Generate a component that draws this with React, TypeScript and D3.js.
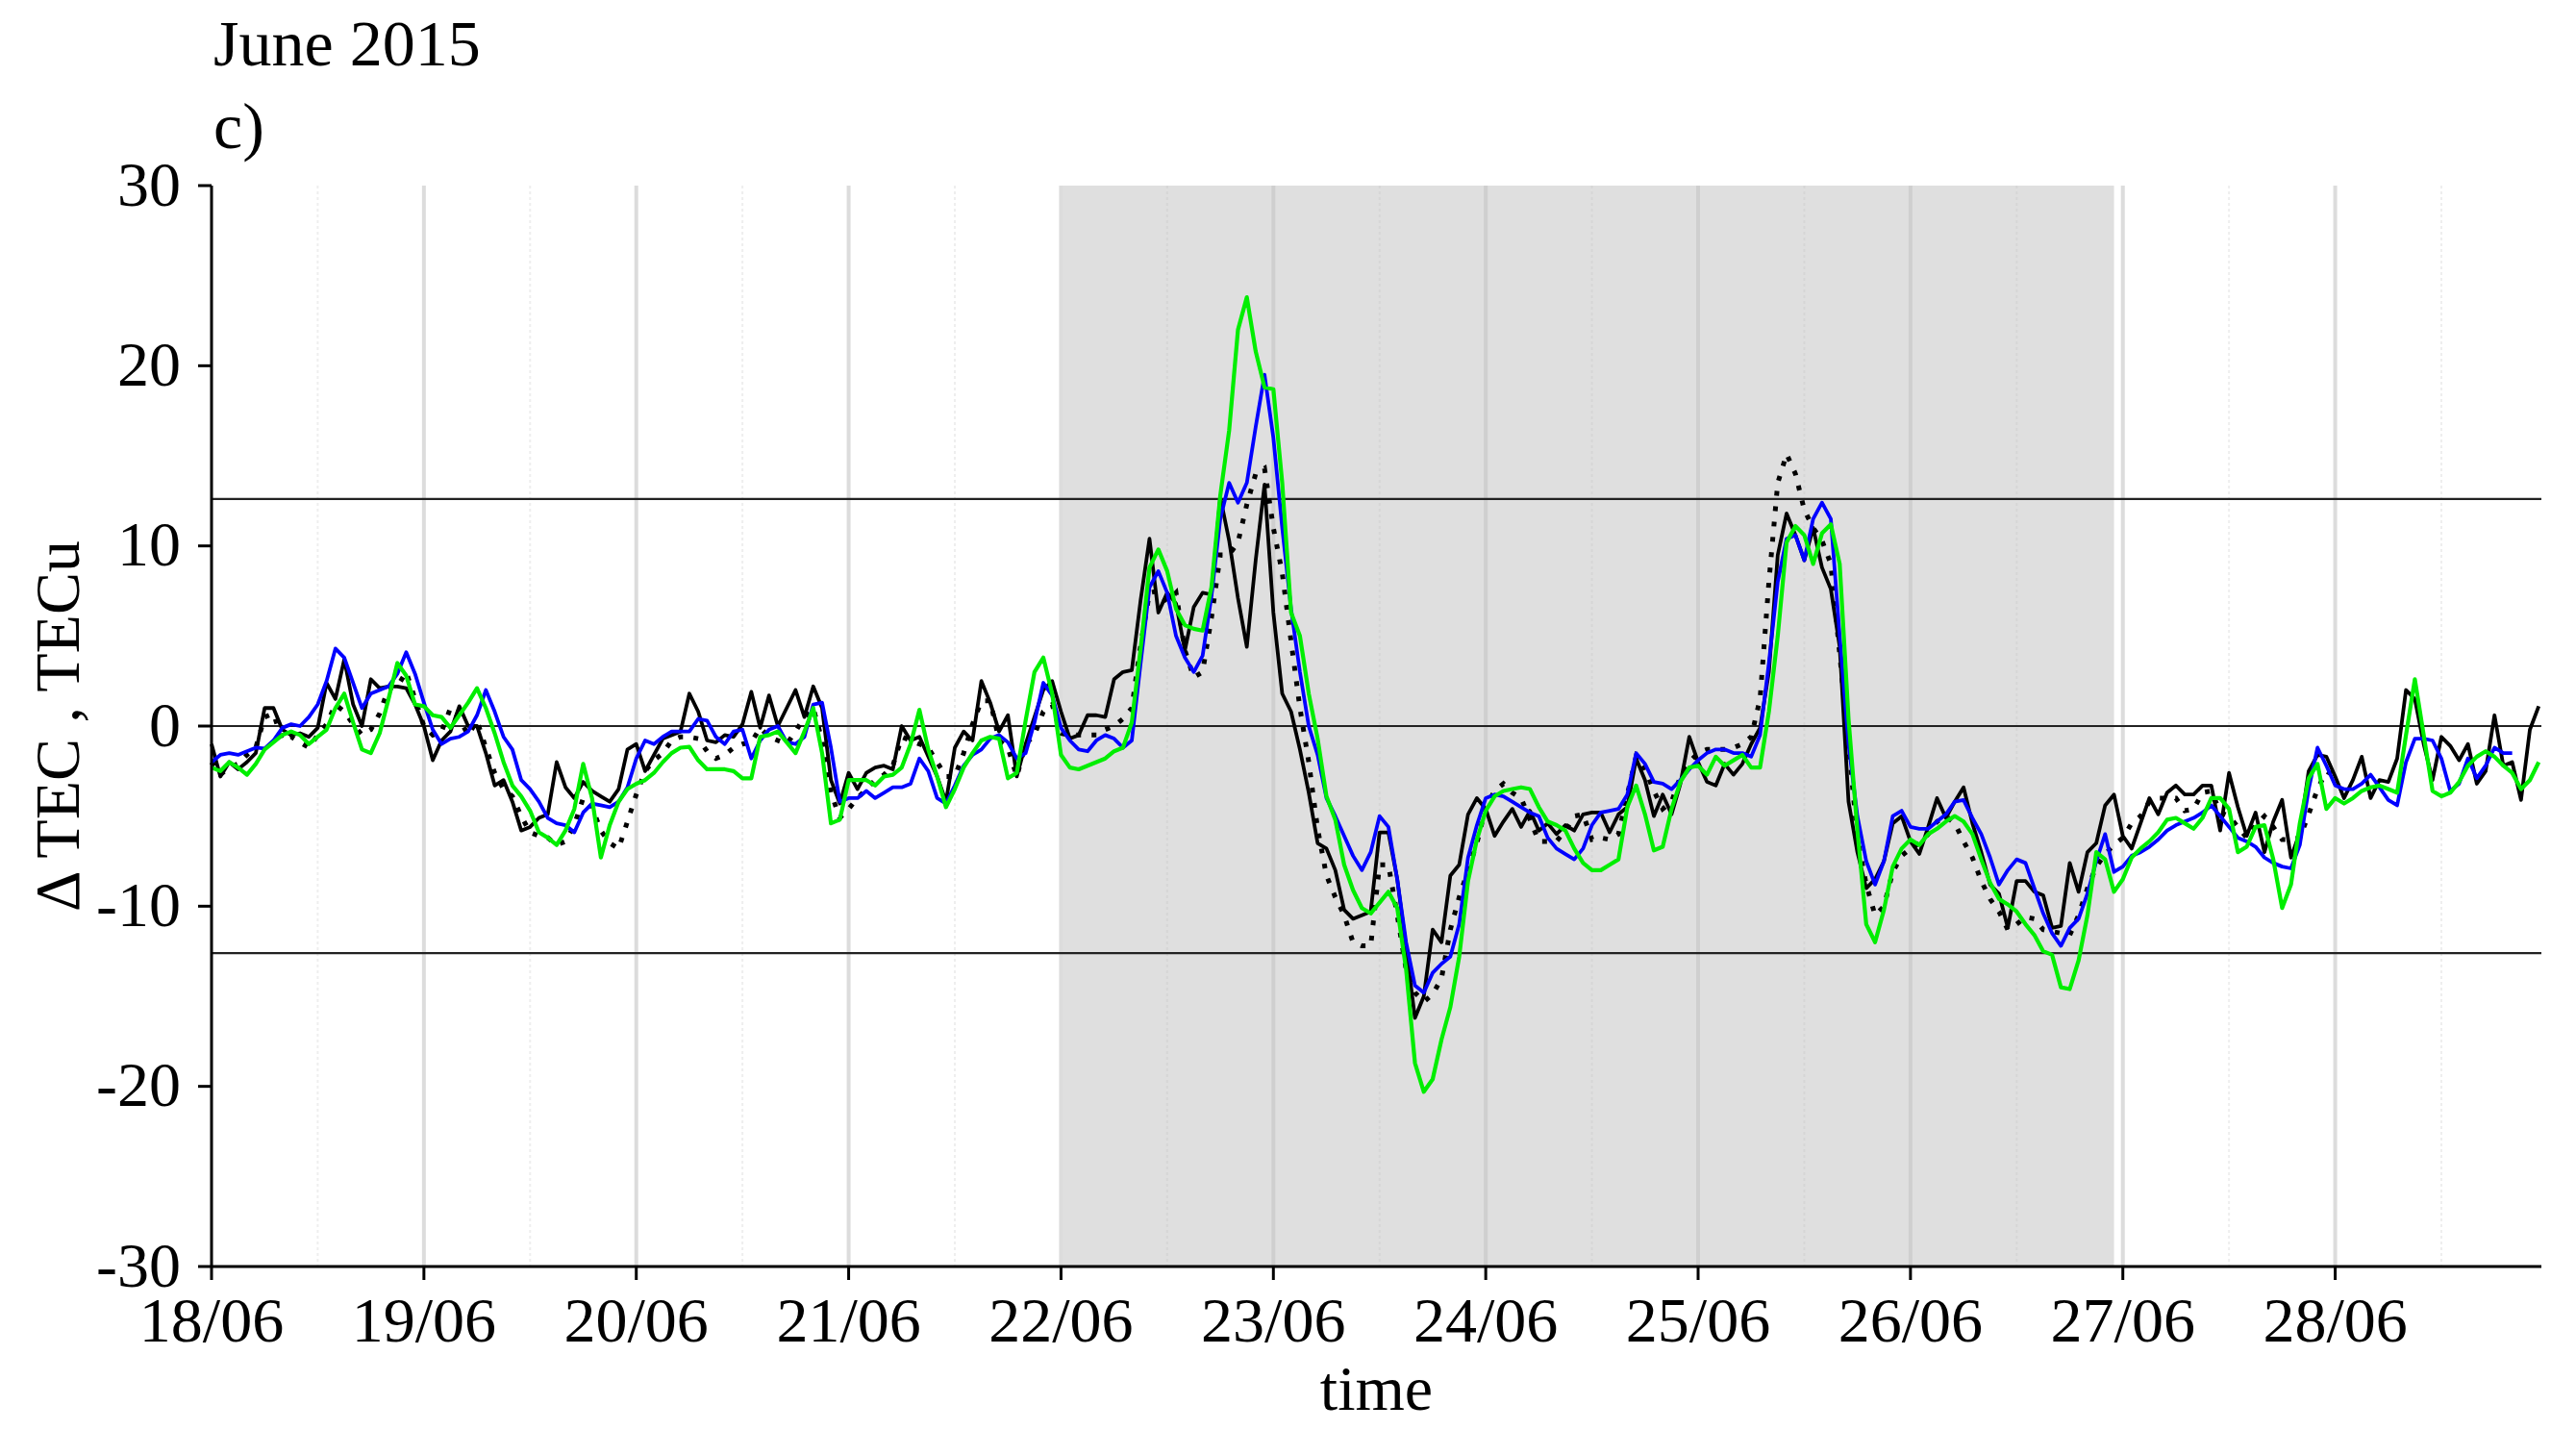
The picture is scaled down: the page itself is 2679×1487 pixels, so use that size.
import React, { useEffect } from 'react';
import * as d3 from 'd3';

// ---- data (hourly, starting 18/06/2015 00:00) ----
const dayLabels = ['18/06', '19/06', '20/06', '21/06', '22/06', '23/06', '24/06', '25/06', '26/06', '27/06', '28/06'];
const yTicks = [-30, -20, -10, 0, 10, 20, 30];
const thresholds = [12.6, -12.6];
const shadeHours = [96, 215];

const tecSolid = [
  -1.0, -2.8, -2.0, -2.4, -2.0, -1.5, 1.0, 1.0, -0.2, -0.5, -0.4, -0.6, -0.1, 2.4, 1.5, 3.7, 1.2, 0.0, 2.6, 2.1, 2.2, 2.2, 2.1, 1.2,
  0.0, -1.9, -0.8, -0.3, 1.1, 0.0, 0.0, -1.5, -3.3, -3.0, -4.2, -5.8, -5.6, -5.1, -4.9, -2.0, -3.4, -4.0, -3.1, -3.6, -3.9, -4.2, -3.5, -1.3,
  -1.0, -2.5, -1.6, -0.7, -0.5, -0.3, 1.8, 0.8, -0.8, -0.9, -0.5, -0.6, 0.1, 1.9, -0.1, 1.7, 0.0, 1.0, 2.0, 0.5, 2.2, 1.0, -3.0, -4.3,
  -2.6, -3.5, -2.6, -2.3, -2.2, -2.4, 0.0, -0.8, -0.6, -1.7, -2.8, -4.2, -1.2, -0.3, -0.8, 2.5, 1.3, -0.3, 0.6, -2.8, -1.0, 0.5, 2.0, 2.5,
  0.8, -0.7, -0.5, 0.6, 0.6, 0.5, 2.6, 3.0, 3.1, 7.0, 10.4, 6.3, 7.4, 6.8, 4.2, 6.6, 7.4, 7.3, 12.7, 10.3, 7.1, 4.4, 9.2, 13.4,
  6.3, 1.8, 0.8, -1.3, -3.7, -6.5, -6.8, -8.0, -10.2, -10.7, -10.5, -10.3, -5.9, -5.9, -8.5, -12.3, -16.2, -15.0, -11.3, -12.0, -8.3, -7.7, -4.9, -4.0,
  -4.6, -6.1, -5.3, -4.6, -5.6, -4.7, -5.8, -5.4, -6.0, -5.5, -5.8, -4.9, -4.8, -4.8, -5.9, -4.9, -4.5, -1.8, -3.0, -5.0, -3.8, -4.9, -3.2, -0.6,
  -2.0, -3.1, -3.3, -2.1, -2.7, -2.1, -1.0, -0.1, 3.0, 9.5, 11.8, 10.6, 9.2, 11.0, 8.8, 7.6, 4.4, -4.2, -7.0, -9.0, -8.5, -7.5, -5.4, -5.0,
  -6.4, -7.1, -5.6, -4.0, -5.1, -4.2, -3.4, -5.4, -7.0, -8.8, -9.3, -11.2, -8.6, -8.6, -9.2, -9.4, -11.2, -11.1, -7.6, -9.2, -7.0, -6.5, -4.4, -3.8,
  -6.1, -6.8, -5.4, -4.0, -4.9, -3.7, -3.3, -3.8, -3.8, -3.3, -3.3, -5.8, -2.6, -4.5, -6.1, -4.8, -7.0, -5.3, -4.1, -7.3, -5.9, -2.5, -1.6, -1.7,
  -2.8, -4.0, -3.0, -1.7, -4.0, -3.0, -3.1, -1.8, 2.0, 1.5, -1.0, -3.0, -0.6, -1.1, -1.9, -1.0, -3.2, -2.5, 0.6, -2.2, -2.0, -4.1, -0.2, 1.1,
];

const tecDotted = [
  -2.0, -2.7, -2.3, -2.1, -1.6, -1.2, 0.5, 0.7, -0.8, -0.6, -0.9, -1.2, -0.5, 0.1, 1.2, 0.8, 0.1, -0.5, -0.2, 0.7, 2.1, 2.2, 3.0, 1.5,
  0.0, -0.5, -0.3, 1.0, 0.4, -0.5, 0.3, -1.2, -2.6, -3.5, -3.9, -5.0, -5.9, -6.1, -6.2, -6.6, -6.4, -5.5, -4.0, -4.5, -5.8, -6.5, -6.8, -5.3,
  -3.8, -2.5, -1.9, -1.5, -0.8, -0.6, -0.6, -0.7, -1.4, -1.8, -1.6, -1.2, -1.0, -0.9, -0.1, -0.6, -0.8, -1.0, -0.3, 0.5, 1.0, -0.8, -3.7, -5.1,
  -4.6, -4.0, -3.5, -3.0, -2.7, -2.2, -0.6, -0.8, -1.0, -1.2, -2.0, -2.8, -2.8, -1.5, 0.1, 1.4, 1.4, -0.8, -1.2, -2.8, -1.0, -0.5, 0.8, 1.2,
  -0.4, -0.5, -0.5, -0.5, -0.5, -0.2, 0.0, 0.4, 1.0, 4.5, 7.4, 7.5, 6.9, 7.4, 4.2, 2.7, 3.0, 6.0, 9.5, 9.5, 10.2, 12.3, 14.0, 14.3,
  11.0, 8.5, 4.7, 1.0, -2.0, -5.7, -8.3, -9.5, -10.5, -12.0, -12.2, -12.2, -7.7, -7.7, -10.5, -13.5, -14.8, -15.3, -14.9, -14.0, -11.3, -9.5, -8.0, -6.5,
  -4.5, -3.6, -3.2, -3.7, -4.0, -5.2, -6.4, -6.4, -6.4, -5.8, -5.0, -4.9, -6.3, -6.2, -6.3, -6.0, -3.8, -1.7, -2.4, -3.6, -4.6, -4.2, -2.8, -2.0,
  -1.5, -1.3, -1.3, -1.3, -1.2, -1.0, -0.6, 1.5, 8.0, 13.5, 15.1, 14.0, 12.0, 11.0, 10.3, 9.0, 4.0, -1.0, -6.2, -8.8, -10.5, -10.0, -8.1, -7.2,
  -6.8, -6.5, -6.0, -5.3, -5.0, -5.4, -6.4, -7.3, -8.6, -9.6, -10.3, -11.3, -11.0, -10.6, -10.7, -11.3, -11.4, -11.5, -11.6, -10.5, -9.0, -7.8, -7.1, -6.6,
  -6.2, -5.4, -5.0, -4.2, -4.0, -4.0, -4.0, -4.7, -4.6, -3.7, -3.6, -4.8, -5.0, -5.6, -6.2, -5.5, -5.0, -5.6, -6.3, -6.3, -6.2, -4.9, -3.5, -2.5,
  -2.8,
];

const modelBlue = [
  -2.0, -1.6, -1.5, -1.6, -1.4, -1.2, -1.25, -0.8, -0.1, 0.1, 0.0, 0.5, 1.2, 2.5, 4.3, 3.8, 2.4, 1.0, 1.8, 2.0, 2.2, 2.9, 4.1, 2.9,
  1.3, -0.2, -1.0, -0.7, -0.6, -0.3, 0.6, 2.0, 0.8, -0.6, -1.3, -3.0, -3.5, -4.2, -5.1, -5.4, -5.5, -5.9, -4.8, -4.3, -4.4, -4.5, -4.2, -3.4,
  -1.8, -0.8, -1.0, -0.6, -0.3, -0.3, -0.3, 0.4, 0.3, -0.6, -1.0, -0.3, -0.2, -1.8, -0.8, -0.2, 0.0, -0.9, -1.0, -0.6, 1.2, 1.3, -1.2, -4.2,
  -4.0, -4.0, -3.6, -4.0, -3.7, -3.4, -3.4, -3.2, -1.8, -2.5, -4.0, -4.3, -3.3, -2.2, -1.6, -1.3, -0.7, -0.5, -0.9, -1.8, -1.5, 0.2, 2.4, 1.7,
  -0.1, -0.8, -1.3, -1.4, -0.8, -0.5, -0.7, -1.2, -0.8, 3.5, 7.7, 8.6, 7.4, 5.0, 3.8, 3.0, 3.9, 7.2, 11.5, 13.5, 12.4, 13.5, 16.6, 19.5,
  16.0, 11.0, 6.5, 3.0, 0.0, -1.6, -4.0, -5.0, -6.1, -7.2, -8.0, -7.0, -5.0, -5.6, -8.5, -12.0, -14.4, -14.8, -13.7, -13.2, -12.8, -11.0, -7.3, -5.5,
  -4.0, -3.8, -3.9, -4.2, -4.5, -4.8, -5.0, -6.2, -6.8, -7.1, -7.4, -6.8, -5.5, -4.8, -4.7, -4.6, -3.8, -1.5, -2.1, -3.1, -3.2, -3.5, -3.0, -2.4,
  -1.9, -1.5, -1.3, -1.3, -1.5, -1.5, -1.7, -0.5, 3.5, 8.0, 10.4, 10.6, 9.2, 11.5, 12.4, 11.5, 5.0, -1.0, -5.0, -7.5, -8.8, -7.5, -5.0, -4.7,
  -5.6, -5.7, -5.7, -5.3, -4.9, -4.2, -4.1, -5.1, -6.0, -7.3, -8.8, -8.0, -7.4, -7.6, -9.0, -10.4, -11.5, -12.2, -11.2, -10.7, -9.3, -7.5, -6.0, -8.1,
  -7.8, -7.2, -7.0, -6.7, -6.3, -5.8, -5.5, -5.3, -5.1, -4.8, -4.4, -5.0, -5.6, -6.2, -6.4, -6.7, -7.3, -7.6, -7.8, -7.9, -6.6, -3.5, -1.2, -2.2,
  -3.3, -3.5, -3.5, -3.2, -2.7, -3.4, -4.1, -4.4, -2.0, -0.7, -0.7, -0.8, -1.8, -3.6, -3.2, -1.8, -2.9, -2.2, -1.2, -1.5, -1.5,
];

const modelGreen = [
  -2.3, -2.5, -2.0, -2.3, -2.7, -2.1, -1.3, -0.9, -0.5, -0.3, -0.5, -1.0, -0.6, -0.2, 1.0, 1.8, 0.2, -1.3, -1.5, -0.4, 1.5, 3.5, 2.8, 1.2,
  1.1, 0.6, 0.5, -0.1, 0.6, 1.3, 2.1, 1.0, -0.4, -2.0, -3.3, -3.9, -4.7, -5.9, -6.2, -6.6, -5.8, -4.6, -2.1, -4.0, -7.3, -5.5, -4.2, -3.5,
  -3.2, -3.0, -2.6, -2.0, -1.5, -1.2, -1.15, -1.9, -2.4, -2.4, -2.4, -2.5, -2.9, -2.9, -0.6, -0.5, -0.3, -0.9, -1.5, -0.3, 1.0, -1.5, -5.4, -5.2,
  -3.0, -3.0, -3.0, -3.3, -2.8, -2.7, -2.3, -1.0, 0.9, -1.3, -2.8, -4.5, -3.5, -2.3, -1.5, -0.8, -0.6, -0.7, -2.9, -2.6, 0.3, 3.0, 3.8, 1.8,
  -1.6, -2.3, -2.4, -2.2, -2.0, -1.8, -1.4, -1.2, 0.2, 4.3, 8.8, 9.8, 8.6, 6.5, 5.6, 5.4, 5.3, 7.7, 12.8, 16.4, 22.0, 23.8, 20.8, 18.8,
  18.7, 13.5, 6.3, 5.0, 1.8, -0.7, -3.9, -5.2, -7.7, -9.1, -10.1, -10.4, -9.8, -9.2, -10.1, -13.5, -18.7, -20.3, -19.6, -17.4, -15.6, -12.8, -8.6, -6.3,
  -4.7, -3.9, -3.6, -3.5, -3.4, -3.5, -4.5, -5.3, -5.5, -5.8, -6.8, -7.6, -8.0, -8.0, -7.7, -7.4, -4.5, -3.3, -4.9, -6.9, -6.7, -4.6, -3.1, -2.3,
  -2.2, -2.7, -1.7, -2.2, -1.9, -1.6, -2.3, -2.3, 0.8, 5.0, 10.2, 11.1, 10.6, 9.0, 10.7, 11.2, 9.0, 0.4, -5.8, -11.0, -12.0, -10.2, -7.8, -6.8,
  -6.3, -6.6, -6.0, -5.7, -5.3, -5.0, -5.3, -6.0, -7.4, -8.7, -9.6, -9.9, -10.3, -11.0, -11.6, -12.5, -12.7, -14.5, -14.6, -13.0, -10.5, -7.0, -7.4, -9.2,
  -8.5, -7.3, -6.8, -6.4, -5.9, -5.2, -5.1, -5.4, -5.7, -5.1, -4.0, -4.0, -4.6, -7.0, -6.7, -5.6, -5.5, -7.4, -10.1, -8.8, -5.4, -2.9, -2.1, -4.6,
  -4.0, -4.3, -4.0, -3.6, -3.4, -3.3, -3.5, -3.7, -0.5, 2.6, -0.5, -3.6, -3.9, -3.7, -3.1, -2.2, -1.7, -1.4, -1.7, -2.2, -2.6, -3.5, -3.0, -2.0,
];

const FONT = '"Liberation Serif", "Times New Roman", serif';

export default function App() {
  useEffect(() => {
    document.body.style.margin = '0';
  }, []);

  const W = 2679;
  const H = 1487;
  const left = 220;
  const right = 2643;
  const top = 193;
  const bottom = 1317;

  const x = d3.scaleLinear().domain([0, 263.3]).range([left, right]);
  const y = d3.scaleLinear().domain([-30, 30]).range([bottom, top]);
  const line = d3
    .line<number>()
    .x((_, i) => x(i))
    .y((d) => y(d));

  const majorHours = dayLabels.map((_, i) => i * 24);
  const minorHours = dayLabels.map((_, i) => i * 24 + 12).filter((h) => h < 263.3);
  const inShade = (h: number) => h > shadeHours[0] && h < shadeHours[1];

  return (
    <svg width={W} height={H} style={{ display: 'block', background: '#fff' }} fontFamily={FONT}>
      {/* shaded storm period */}
      <rect
        x={x(shadeHours[0])}
        y={top}
        width={x(shadeHours[1]) - x(shadeHours[0])}
        height={bottom - top}
        fill="#dfdfdf"
      />
      {/* grid */}
      {minorHours.map((h) => (
        <line
          key={'mn' + h}
          x1={x(h)}
          x2={x(h)}
          y1={top}
          y2={bottom}
          stroke={inShade(h) ? '#d6d6d6' : '#eeeeee'}
          strokeWidth={2}
          strokeDasharray="3,3"
        />
      ))}
      {majorHours.slice(1).map((h) => (
        <line
          key={'mj' + h}
          x1={x(h)}
          x2={x(h)}
          y1={top}
          y2={bottom}
          stroke={inShade(h) ? '#cfcfcf' : '#dcdcdc'}
          strokeWidth={4}
        />
      ))}
      {/* reference lines */}
      <line x1={left} x2={right} y1={y(0)} y2={y(0)} stroke="#222" strokeWidth={2.2} />
      {thresholds.map((t) => (
        <line key={'th' + t} x1={left} x2={right} y1={y(t)} y2={y(t)} stroke="#222" strokeWidth={2.2} />
      ))}
      {/* series */}
      <path d={line(tecDotted) || ''} fill="none" stroke="#000" strokeWidth={5} strokeDasharray="5,11" />
      <path d={line(tecSolid) || ''} fill="none" stroke="#000" strokeWidth={3.8} strokeLinejoin="round" />
      <path d={line(modelBlue) || ''} fill="none" stroke="#0000ff" strokeWidth={3.8} strokeLinejoin="round" />
      <path d={line(modelGreen) || ''} fill="none" stroke="#00ee00" strokeWidth={4.2} strokeLinejoin="round" />
      {/* axes */}
      <line x1={left} x2={left} y1={top} y2={bottom} stroke="#000" strokeWidth={3} />
      <line x1={left} x2={right} y1={bottom} y2={bottom} stroke="#000" strokeWidth={3} />
      {yTicks.map((t) => (
        <g key={'yt' + t}>
          <line x1={left - 14} x2={left} y1={y(t)} y2={y(t)} stroke="#000" strokeWidth={3} />
          <text x={left - 32} y={y(t) - 2} textAnchor="end" dominantBaseline="central" fontSize={66}>
            {t}
          </text>
        </g>
      ))}
      {majorHours.map((h, i) => (
        <g key={'xt' + h}>
          <line x1={x(h)} x2={x(h)} y1={bottom} y2={bottom + 14} stroke="#000" strokeWidth={3} />
          <text x={x(h)} y={1395} textAnchor="middle" fontSize={66}>
            {dayLabels[i]}
          </text>
        </g>
      ))}
      {/* labels */}
      <text x={(left + right) / 2} y={1466} textAnchor="middle" fontSize={66}>
        time
      </text>
      <text transform={`translate(82, ${(top + bottom) / 2}) rotate(-90)`} textAnchor="middle" fontSize={66}>
        Δ TEC , TECu
      </text>
      <text x={222} y={68} fontSize={68}>
        June 2015
      </text>
      <text x={222} y={154} fontSize={68}>
        c)
      </text>
    </svg>
  );
}
